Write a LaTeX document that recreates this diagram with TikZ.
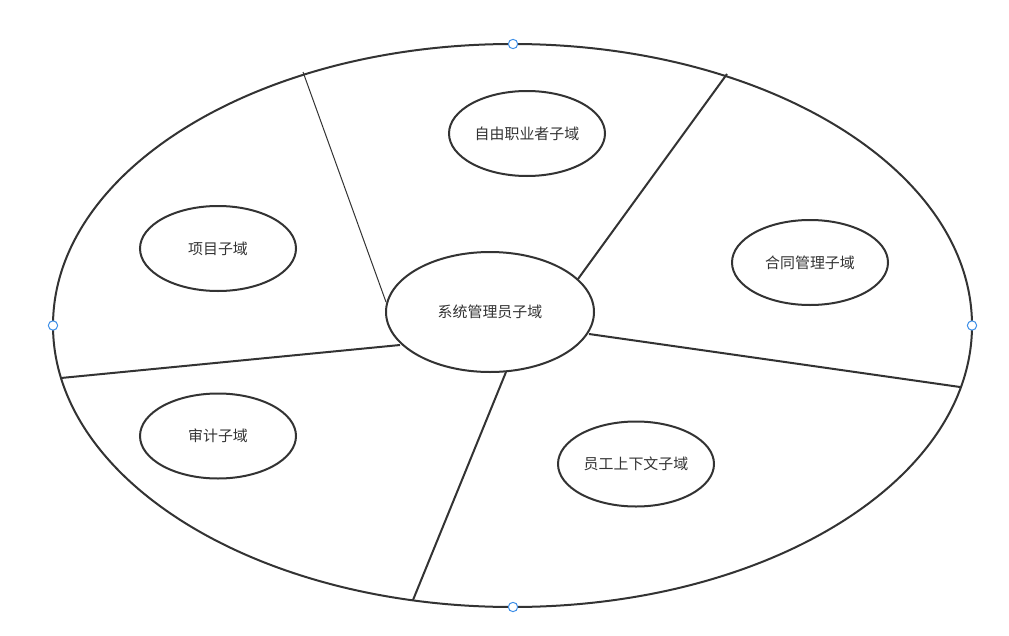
\documentclass[tikz,border=0pt]{standalone}
\usepackage{fontspec}
\setmainfont{Noto Sans CJK SC}
\usetikzlibrary{shapes.geometric}
\definecolor{ink}{HTML}{333333}
\definecolor{handle}{HTML}{3D8FE8}
\begin{document}
\begin{tikzpicture}[x=0.75pt,y=-0.75pt,
  dom/.style={ellipse,draw=ink,line width=1.5pt,fill=white,inner sep=0pt,
    minimum width=156*0.75pt,minimum height=85*0.75pt,font=\fontsize{11.2pt}{13pt}\selectfont,text=ink},
  bigline/.style={draw=ink,line width=1.5pt},
  thinline/.style={draw=ink,line width=0.75pt},
  hdl/.style={circle,draw=handle,fill=white,line width=0.75pt,minimum size=7pt,inner sep=0pt}]
\useasboundingbox (0,0) rectangle (1009,635);
\draw[ink,line width=1.5pt] (512.5,325.5) ellipse [x radius=459.5,y radius=281.5];
% end points on outer ellipse
\coordinate (o1) at (303,72);
\coordinate (o2) at (727,74);
\coordinate (o3) at (960,387);
\coordinate (o4) at (413,600);
\coordinate (o5) at (61,378);
% end points on the central ellipse
\coordinate (i1) at (386,302);
\coordinate (i2) at (578,279);
\coordinate (i3) at (589,334);
\coordinate (i4) at (506,372);
\coordinate (i5) at (400,345);
\draw[thinline] (o1) -- (i1);
\draw[bigline] (o2) -- (i2);
\draw[bigline] (o3) -- (i3);
\draw[bigline] (o4) -- (i4);
\draw[bigline] (o5) -- (i5);
\node[dom,minimum width=208*0.75pt,minimum height=120*0.75pt] (sys) at (490,312) {系统管理员子域};
\node[dom] (free) at (527,133.5) {自由职业者子域};
\node[dom] (proj) at (218,248.5) {项目子域};
\node[dom] (cont) at (810,262.5) {合同管理子域};
\node[dom] (audit) at (218,436) {审计子域};
\node[dom] (emp) at (636,464) {员工上下文子域};
\node[hdl] (h1) at (513,44) {};
\node[hdl] (h2) at (53,325.5) {};
\node[hdl] (h3) at (972,325.5) {};
\node[hdl] (h4) at (513,607) {};
\end{tikzpicture}
\end{document}
